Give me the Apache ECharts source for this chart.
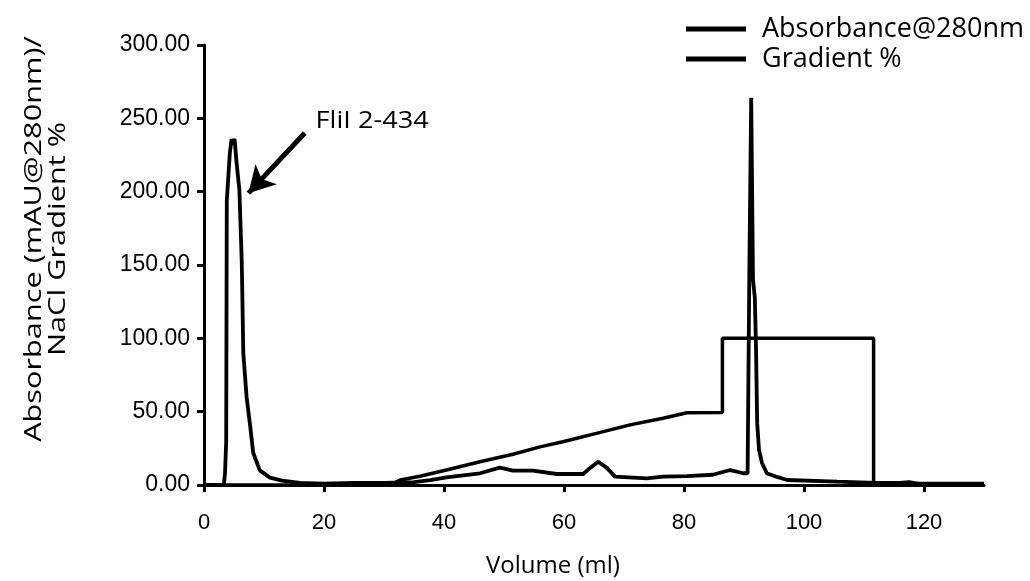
<!DOCTYPE html>
<html>
<head>
<meta charset="utf-8">
<script src="https://cdn.jsdelivr.net/npm/echarts@6/dist/echarts.min.js"></script>
<style>html,body{margin:0;padding:0;background:#fff}#c{width:1030px;height:581px}</style>
</head>
<body>
<div id="c"></div>
<script>
// Absorbance@280nm trace: volume (ml) and value (mAU)
var absVolume = [0, 3.3, 3.5, 3.7, 3.8, 4.3, 4.6, 4.8, 5.1, 5.4, 5.9, 6.3, 6.55, 7.1, 7.7, 8.2, 9.3, 11, 13, 16, 20, 25, 30, 35, 37.7, 40.4, 46, 49.3, 51.5, 54.8, 58.8, 63.2, 64.3, 65.7, 67.2, 68.5, 73.8, 76.5, 80.5, 84.8, 87.7, 89.9, 90.6, 90.9, 91.2, 91.5, 91.8, 92.0, 92.2, 92.5, 93.0, 93.8, 95.5, 97.2, 105.5, 112, 116, 117.5, 119, 125, 130];
var absValue  = [0, 0, 8, 30, 194, 226, 236, 232, 236, 221, 201, 151, 90, 60, 40, 22, 10, 5, 3, 1.5, 1, 1.5, 1.5, 2, 3.4, 5.2, 8, 11.8, 9.8, 9.8, 7.5, 7.5, 11.5, 15.9, 11.5, 5.7, 4.5, 5.7, 6, 7, 10.2, 8, 8, 150, 264, 140, 128, 94, 42, 24, 15, 8, 5.5, 3.4, 2.3, 1.5, 1.5, 2, 1, 1, 1];
// NaCl gradient %: volume (ml) and value (%)
var gradVolume = [0, 31, 32.7, 36, 40.4, 46, 51.5, 56, 59.8, 65.4, 71, 76.5, 80.5, 86.4, 86.4, 111.6, 111.6, 130];
var gradValue  = [0, 0, 3.4, 6, 10.2, 15.9, 21, 26, 29.5, 35.2, 41, 45.5, 49.3, 49.5, 100, 100, 0, 0];
var xTicks = [0, 20, 40, 60, 80, 100, 120];
var yTicks = [0, 50, 100, 150, 200, 250, 300];
var seriesNames = ['Absorbance@280nm', 'Gradient %'];
var annotationText = 'FliI 2-434';
var annotationAt = [18.6, 248];
var arrowFrom = [16.8, 240];
var arrowTo = [7.4, 199];
var yTitle = ['Absorbance (mAU@280nm)/', 'NaCl Gradient %'];
var xTitle = 'Volume (ml)';

function pairs(xs, ys) { return xs.map(function (x, i) { return [x, ys[i]]; }); }

var chart = echarts.init(document.getElementById('c'), null, {renderer: 'canvas'});
var humanist = '"Open Sans", "Noto Sans", sans-serif';
var opt = {
  animation: false,
  backgroundColor: '#fff',
  grid: {left: 204, right: 46, top: 45, bottom: 96, containLabel: false},
  legend: {
    orient: 'vertical', left: 681, top: 9, itemGap: 0,
    itemWidth: 60, itemHeight: 5, icon: 'rect',
    data: seriesNames,
    textStyle: {fontFamily: humanist, fontSize: 27, color: '#000', lineHeight: 30, padding: [0, 0, 0, 11]}
  },
  xAxis: {
    type: 'value', min: 0, max: 130, interval: 20,
    axisLine: {lineStyle: {color: '#000', width: 3}},
    axisTick: {show: true, length: 7, lineStyle: {color: '#000', width: 3}, customValues: xTicks},
    axisLabel: {color: '#000', fontFamily: 'Liberation Sans, Arial, sans-serif', fontSize: 22, margin: 27, customValues: xTicks},
    splitLine: {show: false}
  },
  yAxis: {
    type: 'value', min: 0, max: 300, interval: 50,
    axisLine: {show: true, lineStyle: {color: '#000', width: 3}},
    axisTick: {show: true, length: 7, lineStyle: {color: '#000', width: 3}, customValues: yTicks},
    axisLabel: {color: '#000', fontFamily: 'Liberation Sans, Arial, sans-serif', fontSize: 23, margin: 14, customValues: yTicks,
      formatter: function (v) { return v.toFixed(2); }},
    splitLine: {show: false}
  },
  series: [
    {
      name: seriesNames[0], type: 'line', data: pairs(absVolume, absValue),
      showSymbol: false, symbol: 'none', color: '#000',
      lineStyle: {color: '#000', width: 3.8}, z: 3,
      markLine: {
        silent: true, symbol: ['none', 'arrow'], symbolSize: [22, 26],
        lineStyle: {color: '#000', width: 5, type: 'solid'},
        label: {show: false},
        data: [[{coord: arrowFrom}, {coord: arrowTo}]]
      }
    },
    {
      name: seriesNames[1], type: 'line', data: pairs(gradVolume, gradValue),
      showSymbol: false, symbol: 'none', color: '#000',
      lineStyle: {color: '#000', width: 3.5}, z: 2
    }
  ]
};
chart.setOption(opt);
var ap = chart.convertToPixel({gridIndex: 0}, annotationAt);
chart.setOption({
  graphic: [
    {type: 'text', x: 46, y: 239, rotation: Math.PI / 2, scaleX: 1.28,
      style: {text: yTitle.join('\n'), font: '24px ' + humanist, fill: '#000', align: 'center', verticalAlign: 'middle', lineHeight: 24}},
    {type: 'text', x: 553, y: 566,
      style: {text: xTitle, font: '24px ' + humanist, fill: '#000', align: 'center', verticalAlign: 'middle'}},
    {type: 'text', x: ap[0], y: ap[1], scaleX: 1.18,
      style: {text: annotationText, font: '23px ' + humanist, fill: '#000', align: 'left', verticalAlign: 'middle'}}
  ]
});
</script>
</body>
</html>
